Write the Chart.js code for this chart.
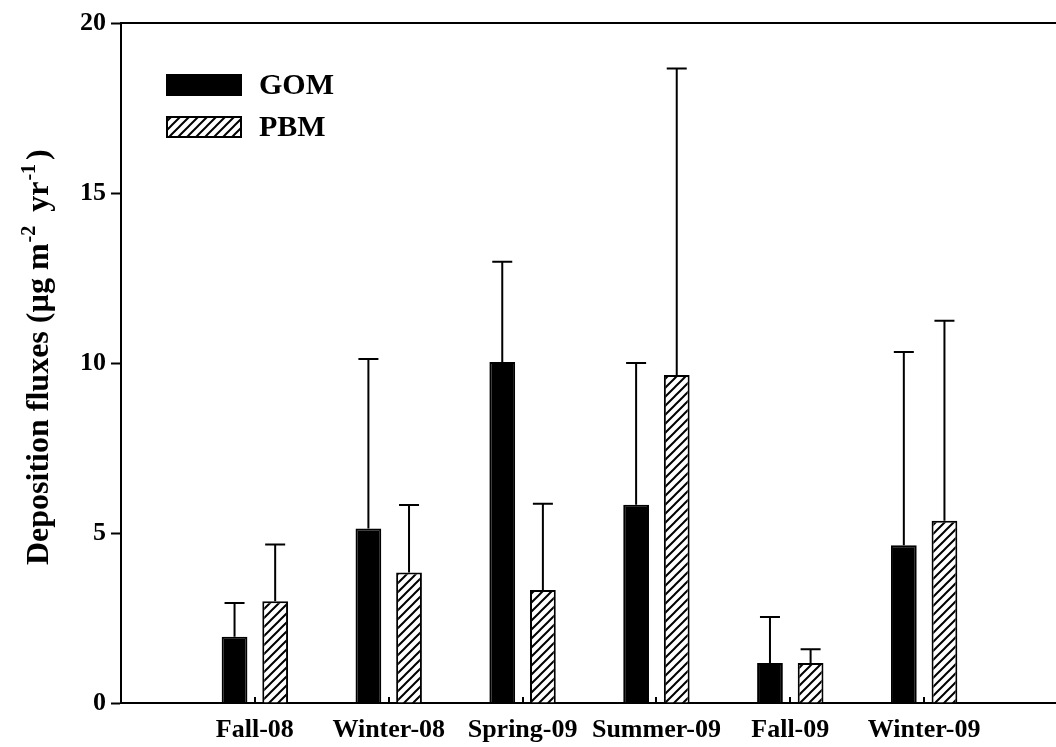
<!DOCTYPE html>
<html>
<head>
<meta charset="utf-8">
<script src="https://cdn.jsdelivr.net/npm/chart.js@4.4.1/dist/chart.umd.min.js"></script>
<style>
  html, body { margin: 0; padding: 0; background: #fff; overflow: hidden; }
  #wrap { width: 1070px; height: 747px; }
</style>
</head>
<body>
<div id="wrap"><canvas id="fluxChart" width="1070" height="747"></canvas></div>
<script>
// Datos
const categories = ['Fall-08', 'Winter-08', 'Spring-09', 'Summer-09', 'Fall-09', 'Winter-09'];
const gomValues = [1.95, 5.13, 10.03, 5.83, 1.18, 4.64];
const gomSd     = [0.99, 4.99, 2.95, 4.17, 1.35, 5.68];
const pbmValues = [2.99, 3.84, 3.32, 9.65, 1.18, 5.36];
const pbmSd     = [1.67, 1.98, 2.54, 9.01, 0.40, 5.88];
const yTicks = [0, 5, 10, 15, 20];

const FONT = "'Liberation Serif', 'Times New Roman', serif";

// huecos vacíos a cada lado, como en el original
const labels = [''].concat(categories, ['']);
const pad = arr => [null].concat(arr, [null]);

// Patrón rayado para PBM
function makeHatch() {
    const s = 9;
    const c = document.createElement('canvas');
    c.width = s; c.height = s;
    const g = c.getContext('2d');
    g.fillStyle = '#fff';
    g.fillRect(0, 0, s, s);
    g.strokeStyle = '#000';
    g.lineWidth = 2;
    g.beginPath();
    g.moveTo(-1, s + 1); g.lineTo(s + 1, -1);
    g.moveTo(-1, 1); g.lineTo(1, -1);
    g.moveTo(s - 1, s + 1); g.lineTo(s + 1, s - 1);
    g.stroke();
    return c;
}

const ctx = document.getElementById('fluxChart').getContext('2d');
const hatch = ctx.createPattern(makeHatch(), 'repeat');

// Barras de error (solo hacia arriba, con tope)
const errorBars = {
    id: 'errorBars',
    afterDatasetsDraw(chart) {
        const c = chart.ctx;
        const y = chart.scales.y;
        c.save();
        c.strokeStyle = '#000';
        c.lineWidth = 2;
        chart.data.datasets.forEach((ds, di) => {
            const meta = chart.getDatasetMeta(di);
            meta.data.forEach((bar, i) => {
                const v = ds.data[i];
                const sd = ds.sd[i];
                if (v == null || sd == null) return;
                const yTop = y.getPixelForValue(v + sd);
                c.beginPath();
                c.moveTo(bar.x, bar.y);
                c.lineTo(bar.x, yTop);
                c.moveTo(bar.x - 10, yTop);
                c.lineTo(bar.x + 10, yTop);
                c.stroke();
            });
        });
        c.restore();
    }
};

// Marco superior, marcas internas del eje x, leyenda y título del eje y
const decorations = {
    id: 'decorations',
    afterDraw(chart) {
        const c = chart.ctx;
        const a = chart.chartArea;
        const x = chart.scales.x;
        c.save();
        c.strokeStyle = '#000';
        c.lineWidth = 2;
        c.beginPath();
        c.moveTo(a.left - 1, a.top);
        c.lineTo(a.right + 2, a.top);
        c.stroke();

        c.beginPath();
        for (let i = 1; i <= categories.length; i++) {
            const px = Math.round(x.getPixelForValue(i));
            c.moveTo(px, a.bottom);
            c.lineTo(px, a.bottom - 6);
        }
        c.stroke();

        // leyenda
        const items = chart.data.datasets;
        const rows = [75, 117];
        items.forEach((ds, i) => {
            const top = rows[i];
            c.fillStyle = ds.backgroundColor;
            c.fillRect(167, top, 74, 20);
            c.strokeStyle = '#000';
            c.lineWidth = 2;
            c.strokeRect(167, top, 74, 20);
            c.fillStyle = '#000';
            c.font = 'bold 30px ' + FONT;
            c.textAlign = 'left';
            c.textBaseline = 'middle';
            c.fillText(ds.label, 259, top + 11);
        });

        // título del eje y con superíndices
        const parts = [
            ['Deposition fluxes (\u00b5g m', false, 1],
            ['-2', true, 6],
            [' yr', false, 1],
            ['-1', true, 4],
            [')', false, 0]
        ];
        const big = 'bold 32px ' + FONT;
        const small = 'bold 20px ' + FONT;
        c.translate(48, 565);
        c.rotate(-Math.PI / 2);
        c.textAlign = 'left';
        c.textBaseline = 'alphabetic';
        let cx = 0;
        parts.forEach(p => {
            c.font = p[1] ? small : big;
            c.fillText(p[0], cx, p[1] ? -13 : 0);
            cx += c.measureText(p[0]).width + p[2];
        });
        c.restore();
    }
};

new Chart(ctx, {
    type: 'bar',
    data: {
        labels: labels,
        datasets: [{
            label: 'GOM',
            data: pad(gomValues),
            sd: pad(gomSd),
            backgroundColor: '#000',
            borderColor: '#000',
            borderWidth: 2
        }, {
            label: 'PBM',
            data: pad(pbmValues),
            sd: pad(pbmSd),
            backgroundColor: hatch,
            borderColor: '#000',
            borderWidth: 2
        }]
    },
    options: {
        responsive: false,
        animation: false,
        events: [],
        categoryPercentage: 0.607,
        barPercentage: 0.634,
        layout: { padding: { top: 23, right: 4, left: 0, bottom: 0 } },
        plugins: {
            legend: { display: false },
            tooltip: { enabled: false }
        },
        scales: {
            x: {
                offset: false,
                grid: { display: true, drawOnChartArea: false, drawTicks: false },
                border: { display: true, color: '#000', width: 2 },
                ticks: {
                    color: '#000',
                    font: { family: FONT, size: 26, weight: 'bold' },
                    padding: 12,
                    maxRotation: 0,
                    autoSkip: false
                },
                afterFit(scale) { scale.height = 44; }
            },
            y: {
                min: 0,
                max: 20,
                afterBuildTicks(scale) { scale.ticks = yTicks.map(v => ({ value: v })); },
                grid: { drawOnChartArea: false, drawTicks: true, tickLength: 10, tickWidth: 2, tickColor: '#000' },
                border: { display: true, color: '#000', width: 2 },
                ticks: {
                    color: '#000',
                    font: { family: FONT, size: 26, weight: 'bold' },
                    padding: 5
                },
                afterFit(scale) { scale.width = 121; }
            }
        }
    },
    plugins: [errorBars, decorations]
});
</script>
</body>
</html>
